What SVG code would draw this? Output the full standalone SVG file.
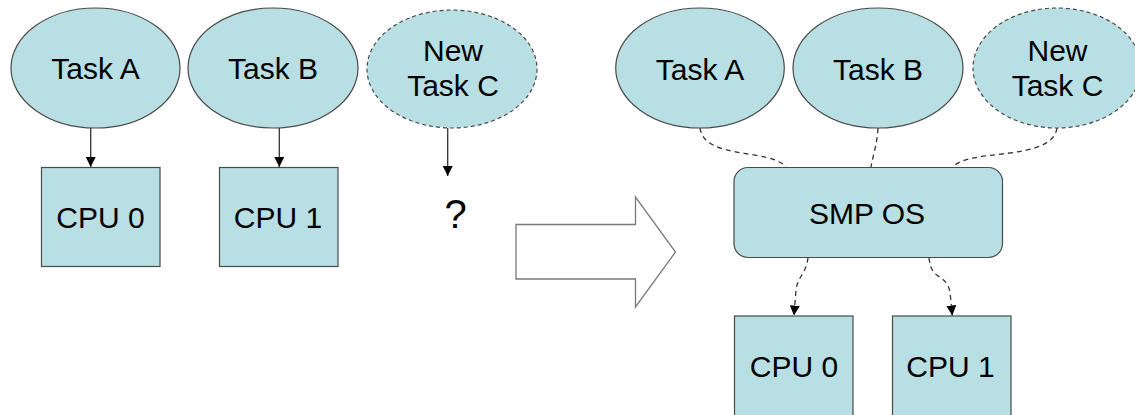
<svg xmlns="http://www.w3.org/2000/svg" width="1135" height="415" viewBox="0 0 1135 415">
  <defs>
    <style>
      .shape { fill: #b8dfe3; stroke: #4a4a4a; stroke-width: 1.2; }
      .dashed { stroke-dasharray: 4 3; }
      .label { font-family: "Liberation Sans", Arial, sans-serif; font-size: 30px; fill: #000; text-anchor: middle; }
      .link { fill: none; stroke: #333; stroke-width: 1.3; }
      .dlink { fill: none; stroke: #333; stroke-width: 1.3; stroke-dasharray: 5 4; }
    </style>
    <marker id="head" viewBox="0 0 10 10" refX="10" refY="5" markerWidth="10" markerHeight="10" markerUnits="userSpaceOnUse" orient="auto">
      <path d="M0,0 L10,5 L0,10 Z" fill="#000"/>
    </marker>
  </defs>
  <rect width="1135" height="415" fill="#fff"/>

  <!-- before: each task bound to a fixed CPU -->
  <g id="left-task-a">
    <ellipse class="shape" cx="95.5" cy="68" rx="84.5" ry="60"/>
    <text class="label" x="95.5" y="79">Task A</text>
  </g>
  <g id="left-task-b">
    <ellipse class="shape" cx="273" cy="68" rx="85" ry="60"/>
    <text class="label" x="273" y="79">Task B</text>
  </g>
  <g id="left-task-c">
    <ellipse class="shape dashed" cx="452" cy="69" rx="85" ry="59"/>
    <text class="label" x="453" y="61">New</text>
    <text class="label" x="453" y="96">Task C</text>
  </g>
  <g id="left-cpu0">
    <rect class="shape" x="41.5" y="167.5" width="118.5" height="99"/>
    <text class="label" x="100.5" y="228">CPU 0</text>
  </g>
  <g id="left-cpu1">
    <rect class="shape" x="219.5" y="167.5" width="118.5" height="99"/>
    <text class="label" x="278" y="228">CPU 1</text>
  </g>
  <g id="unknown">
    <text class="label" x="455.5" y="228" style="font-size:40px">?</text>
  </g>

  <!-- transition arrow -->
  <g id="transition">
    <path d="M516,224.5 L635.5,224.5 L635.5,197 L675.5,252 L635.5,307 L635.5,279 L516,279 Z" fill="#fff" stroke="#7a7a7a" stroke-width="1.3"/>
  </g>

  <!-- after: tasks scheduled by the SMP OS -->
  <g id="right-task-a">
    <ellipse class="shape" cx="700" cy="68" rx="84.3" ry="60"/>
    <text class="label" x="700" y="80">Task A</text>
  </g>
  <g id="right-task-b">
    <ellipse class="shape" cx="878" cy="68" rx="85" ry="60"/>
    <text class="label" x="878" y="80">Task B</text>
  </g>
  <g id="right-task-c">
    <ellipse class="shape dashed" cx="1057" cy="68" rx="84" ry="60"/>
    <text class="label" x="1057.5" y="61">New</text>
    <text class="label" x="1057.5" y="96">Task C</text>
  </g>
  <g id="smp-os">
    <rect class="shape" x="734" y="167.5" width="268.5" height="90" rx="14" ry="14"/>
    <text class="label" x="867" y="223.5">SMP OS</text>
  </g>
  <g id="right-cpu0">
    <rect class="shape" x="734.5" y="316" width="118.5" height="100"/>
    <text class="label" x="794" y="377">CPU 0</text>
  </g>
  <g id="right-cpu1">
    <rect class="shape" x="892.5" y="316" width="118.5" height="100"/>
    <text class="label" x="950.5" y="377">CPU 1</text>
  </g>

  <g id="connectors">
    <line class="link" x1="90.7" y1="128" x2="90.7" y2="167" marker-end="url(#head)"/>
    <line class="link" x1="279.3" y1="128" x2="279.3" y2="167" marker-end="url(#head)"/>
    <line class="link" x1="447.7" y1="128" x2="447.7" y2="176" marker-end="url(#head)"/>

    <path class="dlink" d="M700,128 C704,160 770,148 786,167"/>
    <path class="dlink" d="M878,128 C877,145 873,155 871,167"/>
    <path class="dlink" d="M1057,128 C1052,162 968,148 953,167"/>

    <path class="dlink" d="M808,257.5 C806,275 798,275 796,290 L794,315.5" marker-end="url(#head)"/>
    <path class="dlink" d="M929,257.5 C931,282 946,272 950,292 L952.3,315.5" marker-end="url(#head)"/>
  </g>
</svg>
